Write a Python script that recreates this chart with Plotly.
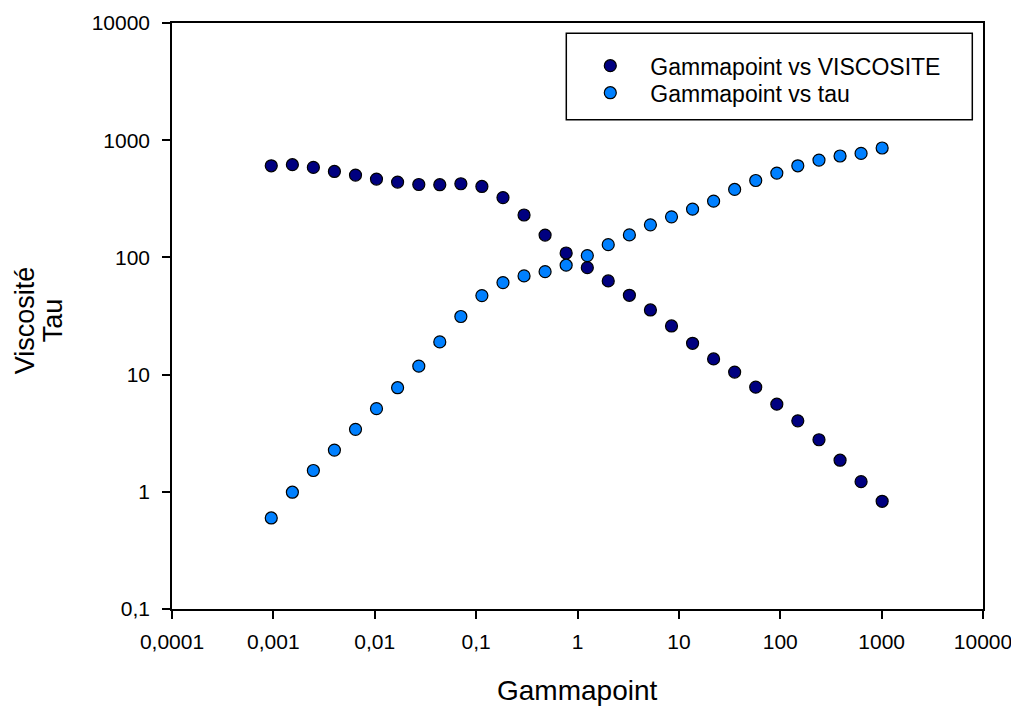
import plotly.graph_objects as go

gammapoint = [0.000953, 0.00154, 0.00248, 0.0040, 0.00646, 0.0104, 0.0168, 0.0272, 0.0438, 0.0707,
              0.114, 0.184, 0.297, 0.479, 0.773, 1.25, 2.01, 3.25, 5.24, 8.46,
              13.65, 22.0, 35.5, 57.3, 92.5, 149, 241, 389, 627, 1012]
viscosite = [605, 618, 586, 541, 504, 466, 439, 419, 417, 425,
             403, 324, 230, 155, 109, 81.8, 63, 47.5, 35.6, 26.0,
             18.5, 13.6, 10.5, 7.81, 5.59, 4.03, 2.78, 1.86, 1.22, 0.83]
tau = [0.598, 0.992, 1.52, 2.27, 3.41, 5.12, 7.73, 11.8, 19.0, 31.3,
       47.2, 61.0, 69.5, 75.6, 85.8, 103.6, 128.5, 155.6, 189.6, 222,
       258, 302, 380, 453, 524, 605, 677, 733, 771, 858]

x_tickvals = [0.0001, 0.001, 0.01, 0.1, 1, 10, 100, 1000, 10000]
x_ticktext = ["0,0001", "0,001", "0,01", "0,1", "1", "10", "100", "1000", "10000"]
y_tickvals = [0.1, 1, 10, 100, 1000, 10000]
y_ticktext = ["0,1", "1", "10", "100", "1000", "10000"]
y_title_lines = ["Viscosité", "Tau"]

FONT = "Liberation Sans, Arial, sans-serif"

# page body adds an 8px offset; plot area target in screenshot: x 171.7-982.7, y 23.3-608.7
OFF = 8
L, T, PW, PH = 171.7 - OFF, 23.3 - OFF, 811, 585.4
W, H = 1011, 698


def px(xs):
    return (xs - 171.7) / PW


def py(ys):
    return 1 - (ys - 23.3) / PH


fig = go.Figure()
fig.add_trace(go.Scatter(
    x=gammapoint, y=viscosite, mode="markers", name="Gammapoint vs VISCOSITE",
    marker=dict(size=12, color="#000080", line=dict(color="black", width=1.2)),
    legend="legend",
))
fig.add_trace(go.Scatter(
    x=gammapoint, y=tau, mode="markers", name="Gammapoint vs tau",
    marker=dict(size=12, color="#0080FF", line=dict(color="black", width=1.2)),
    legend="legend2",
))

axis_common = dict(
    showgrid=False, zeroline=False, showline=True, linecolor="black", linewidth=1.5,
    mirror=True, ticks="outside", ticklen=8, tickwidth=1.5, tickcolor="black",
    tickfont=dict(family=FONT, size=21, color="black"), automargin=False,
)
fig.update_xaxes(type="log", range=[-4, 4], tickvals=x_tickvals, ticktext=x_ticktext,
                 ticklabelstandoff=5, **axis_common)
fig.update_yaxes(type="log", range=[-1, 4], tickvals=y_tickvals, ticktext=y_ticktext,
                 ticklabelstandoff=8, **axis_common)

leg_common = dict(xanchor="left", yanchor="middle", bgcolor="rgba(0,0,0,0)", borderwidth=0,
                  itemwidth=70, font=dict(family=FONT, size=23, color="black"))

annotations = [
    dict(text="Gammapoint", xref="paper", yref="paper", x=px(577.5), y=py(690),
         xanchor="center", yanchor="middle", showarrow=False,
         font=dict(family=FONT, size=28, color="black")),
]
for txt, xpos in zip(y_title_lines, [25, 53]):
    annotations.append(dict(text=txt, xref="paper", yref="paper", x=px(xpos), y=py(320),
                            xanchor="center", yanchor="middle", showarrow=False, textangle=-90,
                            font=dict(family=FONT, size=27, color="black")))

fig.update_layout(
    width=W, height=H,
    margin=dict(l=L, r=W - L - PW, t=T, b=H - T - PH, autoexpand=False),
    plot_bgcolor="white", paper_bgcolor="white",
    font=dict(family=FONT, color="black"),
    showlegend=True,
    legend=dict(x=px(570), y=py(66), **leg_common),
    legend2=dict(x=px(570), y=py(93), **leg_common),
    shapes=[dict(type="rect", xref="paper", yref="paper",
                 x0=px(566), x1=px(972), y0=py(120), y1=py(33.5),
                 line=dict(color="black", width=1.5), fillcolor="rgba(0,0,0,0)")],
    annotations=annotations,
)

fig.write_html("out.html")
